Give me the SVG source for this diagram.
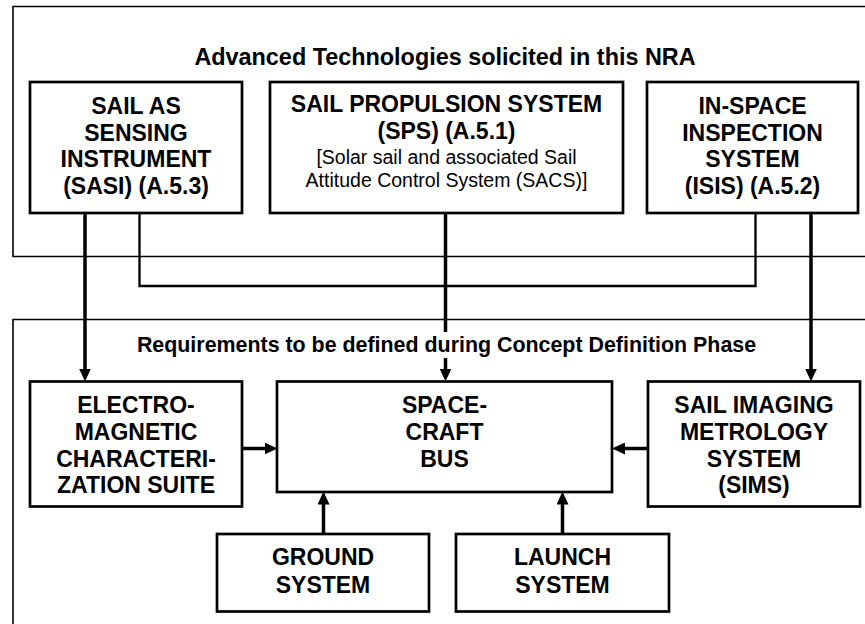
<svg xmlns="http://www.w3.org/2000/svg" width="865" height="624" viewBox="0 0 865 624">
  <style>
    .frame { fill: none; stroke: #000; stroke-width: 1.6; }
    .box { fill: #fff; stroke: #000; stroke-width: 2.7; }
    .hd { font-family: "Liberation Sans", Arial, sans-serif; font-weight: bold; fill: #000; text-anchor: middle; }
    .lbl { font-family: "Liberation Sans", Arial, sans-serif; font-weight: bold; font-size: 23px; fill: #000; text-anchor: middle; }
    .sub { font-family: "Liberation Sans", Arial, sans-serif; font-size: 19.5px; fill: #000; text-anchor: middle; }
    .thick { fill: none; stroke: #000; stroke-width: 3.5; }
    .thin { fill: none; stroke: #000; stroke-width: 2.3; }
  </style>
  <defs>
    <marker id="arrow" markerUnits="userSpaceOnUse" markerWidth="13" markerHeight="12" refX="6" refY="6" orient="auto" viewBox="0 0 13 12">
      <path d="M0,0 L13,6 L0,12 z" fill="#000"/>
    </marker>
  </defs>

  <rect width="865" height="624" fill="#fff"/>

  <!-- grouping frames -->
  <g id="frame-solicited">
    <path class="frame" d="M870,6.5 H13 V256.5 H870"/>
    <text class="hd" x="445" y="65" font-size="23.4">Advanced Technologies solicited in this NRA</text>
  </g>
  <g id="frame-requirements">
    <path class="frame" d="M870,319.5 H13 V630"/>
  </g>

  <!-- connectors -->
  <g id="connectors">
    <path class="thin" d="M139.5,213 V286 H755.5 V213"/>
    <path class="thick" d="M85,213 V374.5" marker-end="url(#arrow)"/>
    <path class="thick" d="M445.5,213 V332"/>
    <path class="thick" d="M445.5,358 V374.5" marker-end="url(#arrow)"/>
    <path class="thick" d="M811,213 V374.5" marker-end="url(#arrow)"/>
    <path class="thick" d="M242,448.5 H270.5" marker-end="url(#arrow)"/>
    <path class="thick" d="M648,448.5 H619" marker-end="url(#arrow)"/>
    <path class="thick" d="M323.5,534 V498.5" marker-end="url(#arrow)"/>
    <path class="thick" d="M562.5,534 V498.5" marker-end="url(#arrow)"/>
  </g>

  <text class="hd" x="446.5" y="351.7" font-size="21.4">Requirements to be defined during Concept Definition Phase</text>

  <!-- nodes -->
  <g id="sasi">
    <rect class="box" x="30" y="82" width="212" height="131"/>
    <text class="lbl" x="136" y="114">SAIL AS</text>
    <text class="lbl" x="136" y="140.7">SENSING</text>
    <text class="lbl" x="136" y="167.4">INSTRUMENT</text>
    <text class="lbl" x="136" y="194">(SASI) (A.5.3)</text>
  </g>
  <g id="sps">
    <rect class="box" x="270" y="82" width="353" height="131"/>
    <text class="lbl" x="446.5" y="112">SAIL PROPULSION SYSTEM</text>
    <text class="lbl" x="446.5" y="138.5">(SPS) (A.5.1)</text>
    <text class="sub" x="446.5" y="164">[Solar sail and associated Sail</text>
    <text class="sub" x="446.5" y="186.5">Attitude Control System (SACS)]</text>
  </g>
  <g id="isis">
    <rect class="box" x="647" y="82" width="211" height="131"/>
    <text class="lbl" x="752.5" y="114">IN-SPACE</text>
    <text class="lbl" x="752.5" y="140.7">INSPECTION</text>
    <text class="lbl" x="752.5" y="167.4">SYSTEM</text>
    <text class="lbl" x="752.5" y="194">(ISIS) (A.5.2)</text>
  </g>
  <g id="emcs">
    <rect class="box" x="30" y="381.5" width="212" height="125"/>
    <text class="lbl" x="136" y="413.3">ELECTRO-</text>
    <text class="lbl" x="136" y="440">MAGNETIC</text>
    <text class="lbl" x="136" y="466.6">CHARACTERI-</text>
    <text class="lbl" x="136" y="493.3">ZATION SUITE</text>
  </g>
  <g id="bus">
    <rect class="box" x="277" y="381.5" width="335" height="110.5"/>
    <text class="lbl" x="444.5" y="413.3">SPACE-</text>
    <text class="lbl" x="444.5" y="440">CRAFT</text>
    <text class="lbl" x="444.5" y="466.6">BUS</text>
  </g>
  <g id="sims">
    <rect class="box" x="648" y="381.5" width="212" height="125"/>
    <text class="lbl" x="754" y="413.3">SAIL IMAGING</text>
    <text class="lbl" x="754" y="440">METROLOGY</text>
    <text class="lbl" x="754" y="466.6">SYSTEM</text>
    <text class="lbl" x="754" y="493.3">(SIMS)</text>
  </g>
  <g id="ground">
    <rect class="box" x="217" y="534" width="212" height="77.5"/>
    <text class="lbl" x="323" y="565">GROUND</text>
    <text class="lbl" x="323" y="593.3">SYSTEM</text>
  </g>
  <g id="launch">
    <rect class="box" x="456" y="534" width="213" height="77.5"/>
    <text class="lbl" x="562.5" y="565">LAUNCH</text>
    <text class="lbl" x="562.5" y="593.3">SYSTEM</text>
  </g>
</svg>
